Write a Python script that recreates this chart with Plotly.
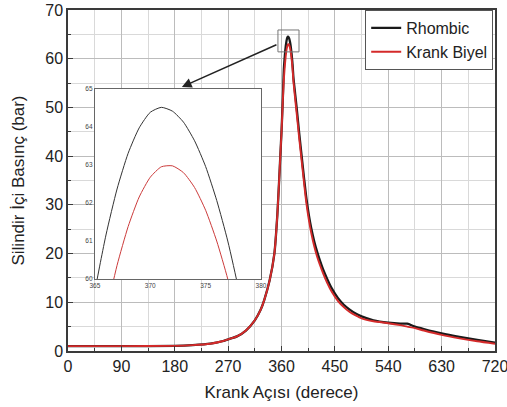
import plotly.graph_objects as go

# ---- data ----
crank_angle = [0, 90, 180, 210, 240, 260, 270, 285, 300, 315, 325, 331, 340, 348, 353, 356, 358,
               360, 362, 363, 364, 365, 366, 367, 368, 369, 370, 371, 372, 373, 374, 375, 376,
               377, 378, 379, 380, 383, 386, 390, 394, 398, 402, 406, 410, 415, 420, 425, 430,
               437, 445, 455, 465, 475, 485, 495, 515, 540, 560, 572, 585, 600, 630, 660, 690, 720]

rhombic = [1.0, 1.0, 1.05, 1.2, 1.5, 2.0, 2.4, 3.0, 4.2, 6.3, 8.5, 10.5, 14.5, 20.0, 28.0, 35.0, 40.0,
           45.0, 51.0, 54.5, 57.9, 59.68, 61.16, 62.37, 63.31, 63.98, 64.39, 64.52, 64.42, 64.13,
           63.64, 62.96, 62.07, 61.0, 59.7, 58.2, 56.3, 52.8, 49.4, 44.5, 40.0, 35.5, 31.3, 28.0,
           25.3, 22.6, 20.4, 18.5, 16.8, 14.8, 12.8, 10.9, 9.5, 8.5, 7.7, 7.1, 6.3, 5.8, 5.6, 5.6,
           5.0, 4.5, 3.6, 2.9, 2.3, 1.7]

krank_biyel = [1.0, 1.0, 1.05, 1.2, 1.5, 2.0, 2.4, 3.0, 4.2, 6.3, 8.5, 10.5, 14.5, 20.0, 28.0, 35.0, 40.0,
               44.8, 50.7, 53.5, 55.8, 57.55, 59.08, 60.36, 61.38, 62.16, 62.68, 62.955, 62.98, 62.80,
               62.41, 61.81, 61.0, 60.0, 58.78, 57.36, 55.5, 51.8, 48.3, 43.5, 39.0, 34.5, 30.3, 27.0,
               24.3, 21.6, 19.4, 17.6, 16.0, 14.0, 12.1, 10.3, 9.0, 8.0, 7.3, 6.7, 6.1, 5.7, 5.3, 5.0,
               4.7, 4.2, 3.3, 2.6, 2.0, 1.5]

series_names = ["Rhombic", "Krank Biyel"]
x_ticks = [0, 90, 180, 270, 360, 450, 540, 630, 720]
y_ticks = [0, 10, 20, 30, 40, 50, 60, 70]
inset_x_ticks = [365, 370, 375, 380]
inset_y_ticks = [60, 61, 62, 63, 64, 65]

# zoom box shown on the main chart (data units)
zoom_box_x = [354, 389.5]
zoom_box_y = [61.4, 65.9]

FONT = "Arial, Liberation Sans, sans-serif"
BLACK = "#1a1a1a"
RED = "#d42a2a"

fig = go.Figure()

fig.add_trace(go.Scatter(x=crank_angle, y=rhombic, name=series_names[0], mode="lines",
                         line=dict(color=BLACK, width=2.3, shape="spline", smoothing=0.6)))
fig.add_trace(go.Scatter(x=crank_angle, y=krank_biyel, name=series_names[1], mode="lines",
                         line=dict(color=RED, width=1.9, shape="spline", smoothing=0.6)))

fig.add_trace(go.Scatter(x=crank_angle, y=rhombic, mode="lines", showlegend=False,
                         xaxis="x2", yaxis="y2",
                         line=dict(color="#333333", width=1, shape="spline", smoothing=0.6)))
fig.add_trace(go.Scatter(x=crank_angle, y=krank_biyel, mode="lines", showlegend=False,
                         xaxis="x2", yaxis="y2",
                         line=dict(color="#cc3b3b", width=1, shape="spline", smoothing=0.6)))

grid_major = "#bcbcbc"
grid_minor = "#d9d9d9"
axis_col = "#3a3a3a"

fig.update_layout(
    width=507, height=407,
    margin=dict(l=68, r=12, t=10, b=56),
    paper_bgcolor="white", plot_bgcolor="white",
    font=dict(family=FONT, color="#222222"),
    showlegend=True,
    legend=dict(x=0.696, y=1.0, xanchor="left", yanchor="top",
                bgcolor="white", bordercolor="#555555", borderwidth=1,
                font=dict(size=16, family=FONT, color="#222222"),
                tracegroupgap=0, itemwidth=30),
    xaxis=dict(range=[0, 720], tickvals=x_ticks, ticks="inside", ticklen=5, tickwidth=1.2,
               tickcolor=axis_col, showline=True, linecolor=axis_col, linewidth=1.5, mirror=True,
               showgrid=True, gridcolor=grid_major, gridwidth=1, zeroline=False, automargin=False,
               ticklabeloverflow="allow",
               tickfont=dict(size=16, family=FONT, color="#222222"),
               title=dict(text="Krank Açısı (derece)", font=dict(size=17, family=FONT, color="#222222"),
                          standoff=12),
               minor=dict(dtick=45, tick0=0, ticks="inside", ticklen=3, tickcolor=axis_col,
                          showgrid=True, gridcolor=grid_minor, gridwidth=1)),
    yaxis=dict(range=[0, 70], tickvals=y_ticks, ticks="inside", ticklen=5, tickwidth=1.2,
               tickcolor=axis_col, showline=True, linecolor=axis_col, linewidth=1.5, mirror=True,
               showgrid=True, gridcolor=grid_major, gridwidth=1, zeroline=False, automargin=False,
               ticklabeloverflow="allow",
               tickfont=dict(size=16, family=FONT, color="#222222"),
               title=dict(text="Silindir İçi Basınç (bar)", font=dict(size=17, family=FONT, color="#222222"),
                          standoff=16),
               minor=dict(dtick=5, tick0=0, ticks="inside", ticklen=3, tickcolor=axis_col,
                          showgrid=True, gridcolor=grid_minor, gridwidth=1)),
    xaxis2=dict(domain=[0.063, 0.452], anchor="y2", range=[365, 380], tickvals=inset_x_ticks,
                showline=True, linecolor="#666666", linewidth=1, mirror=True, showgrid=False,
                zeroline=False, ticks="", automargin=False, ticklabeloverflow="allow",
                tickfont=dict(size=6.5, family=FONT, color="#444444")),
    yaxis2=dict(domain=[0.211, 0.768], anchor="x2", range=[60, 65], tickvals=inset_y_ticks,
                showline=True, linecolor="#666666", linewidth=1, mirror=True, showgrid=False,
                zeroline=False, ticks="", automargin=False, ticklabeloverflow="allow",
                tickfont=dict(size=6.5, family=FONT, color="#444444")),
)

fig.add_shape(type="rect", xref="x", yref="y",
              x0=zoom_box_x[0], x1=zoom_box_x[1], y0=zoom_box_y[0], y1=zoom_box_y[1],
              line=dict(color="#777777", width=1))

fig.add_annotation(x=192, y=54.2, xref="x", yref="y",
                   ax=zoom_box_x[0], ay=63.0, axref="x", ayref="y",
                   showarrow=True, arrowhead=2, arrowsize=1.3, arrowwidth=1.5,
                   arrowcolor="#222222", text="")

fig.write_html("out.html", config={"displayModeBar": False},
               post_script="document.body.style.margin='0px';document.body.style.overflow='hidden';")
